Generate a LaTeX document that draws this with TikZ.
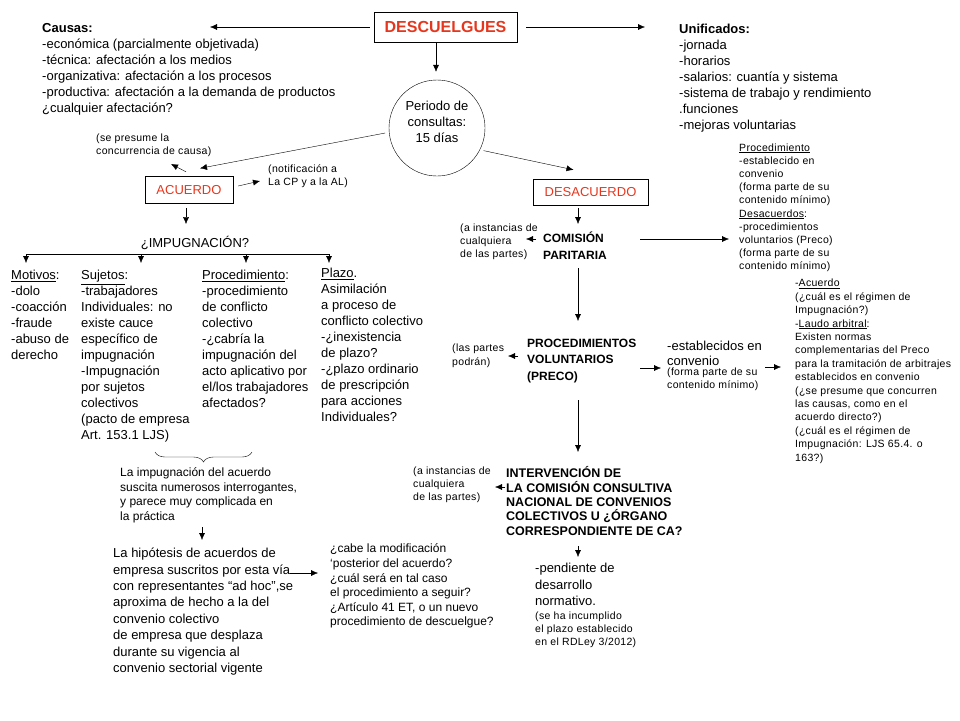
\documentclass[tikz,border=0pt]{standalone}
\usepackage{fontspec}
\setmainfont{Liberation Sans}
\newfontfamily\smallfont[LetterSpace=3]{Liberation Sans}
\usepackage{xcolor}
\usetikzlibrary{arrows.meta}
\usetikzlibrary{decorations.pathreplacing}
\definecolor{descred}{RGB}{230,55,30}
\tikzset{
    arr/.style={-{Latex[length=7pt,width=6pt]}},
    txt/.style={anchor=north west, align=left, inner sep=0pt, yshift=-2pt, execute at begin node=\strut, font=\fontsize{13}{16}\selectfont},
    smalltxt/.style={txt, font=\smallfont\fontsize{10.5}{13.2}\selectfont},
    capstxt/.style={txt, font=\bfseries\fontsize{12}{16.4}\selectfont},
    redbox/.style={draw, text=descred, inner sep=0pt, font=\fontsize{13}{16}\selectfont}}

\begin{document}
\begin{tikzpicture}[x=1pt,y=-1pt]
\useasboundingbox (0,0) rectangle (960,720);

% main boxes
\node[draw, text=descred, inner sep=0pt, font=\bfseries\fontsize{16}{19}\selectfont, minimum width=143pt, minimum height=30pt] (desc) at (445.5,27) {DESCUELGUES};
\node[circle, draw, minimum size=96pt] (per) at (437,128) {};
\node[align=center, inner sep=0pt, font=\fontsize{13}{16}\selectfont] (pertxt) at (437,122) {Periodo de\\consultas:\\15 días};
\node[redbox, minimum width=88pt, minimum height=27pt] (acu) at (189,190) {ACUERDO};
\node[redbox, minimum width=115pt, minimum height=26pt] (desa) at (590.5,192) {DESACUERDO};

% top texts
\node[txt] (causas) at (42,20.8) {\textbf{Causas:}\\-económica (parcialmente objetivada)\\-técnica: afectación a los medios\\-organizativa: afectación a los procesos\\-productiva: afectación a la demanda de productos\\¿cualquier afectación?};
\node[txt] (unif) at (679,22.3) {\textbf{Unificados:}\\-jornada\\-horarios\\-salarios: cuantía y sistema\\-sistema de trabajo y rendimiento\\.funciones\\-mejoras voluntarias};

\coordinate (causasEnd) at (210,27);
\coordinate (unifEnd) at (645,27);
\draw [arr] ([xshift=-4pt]desc.west) -- (causasEnd);
\draw [arr] ([xshift=9pt]desc.east) -- (unifEnd);
\draw [arr] ([xshift=-9.5pt]desc.south) -- ([xshift=-1pt,yshift=8pt]per.north);

% acuerdo branch
\node[smalltxt] (pres) at (96,131.3) {(se presume la\\concurrencia de causa)};
\node[smalltxt] (notif) at (268,162.3) {(notificación a\\La CP y a la AL)};
\coordinate (presEnd) at (171,164);
\coordinate (notifEnd) at (260,181);
\draw [arr] ([xshift=-4pt]per.186) -- ([xshift=11pt,yshift=8pt]acu.north);
\draw [arr] ([xshift=-3pt,yshift=4.5pt]acu.north) -- (presEnd);
\draw [arr] ([xshift=5pt,yshift=4pt]acu.east) -- (notifEnd);

\node[inner sep=0pt, font=\fontsize{13}{16}\selectfont] (imp) at (195,243) {¿IMPUGNACIÓN?};
\draw [arr] ([xshift=-3pt,yshift=-4.5pt]acu.south) -- ([xshift=-9pt,yshift=12pt]imp.north);

\coordinate (br1) at (26,254);
\coordinate (br2) at (141,254);
\coordinate (br3) at (246,254);
\coordinate (br4) at (329,254);
\draw (br1) -- (br4);
\foreach \c in {br1,br2,br3,br4}
    \draw [arr] (\c) -- ++(0,9);

\node[txt] (motivos) at (11,268.3) {\underline{Motivos}:\\-dolo\\-coacción\\-fraude\\-abuso de\\ derecho};
\node[txt] (sujetos) at (81,268.3) {\underline{Sujetos}:\\-trabajadores\\Individuales: no\\existe cauce\\específico de\\impugnación\\-Impugnación\\por sujetos\\colectivos\\(pacto de empresa\\Art. 153.1 LJS)};
\node[txt] (proc) at (202,268.3) {\underline{Procedimiento}:\\-procedimiento\\de conflicto\\colectivo\\-¿cabría la\\impugnación del\\acto aplicativo por\\el/los trabajadores\\afectados?};
\node[txt] (plazo) at (321,265.8) {\underline{Plazo}.\\Asimilación\\a proceso de\\conflicto colectivo\\-¿inexistencia\\de plazo?\\-¿plazo ordinario\\ de prescripción\\para acciones\\Individuales?};

\coordinate (brA) at (252,452);
\coordinate (brB) at (155,452);
\draw [decorate, decoration={brace, amplitude=10pt}] (brA) -- (brB);

\node[txt, font=\fontsize{12}{14.5}\selectfont] (compl) at (120,465.9) {La impugnación del acuerdo\\suscita numerosos interrogantes,\\y parece muy complicada en\\la práctica};
\node[txt, font=\fontsize{13}{16.4}\selectfont] (hip) at (113,546) {La hipótesis de acuerdos de\\empresa suscritos por esta vía\\con representantes “ad hoc”,se\\aproxima de hecho  a la del\\convenio colectivo\\de empresa que desplaza\\durante su vigencia al\\convenio sectorial vigente};
\node[txt, font=\fontsize{12}{14.6}\selectfont] (cabe) at (330,541.8) {¿cabe la modificación\\`posterior del acuerdo?\\¿cuál será en tal caso\\el procedimiento a seguir?\\¿Artículo 41 ET, o un nuevo\\procedimiento de descuelgue?};
\coordinate (complStart) at (202,527);
\coordinate (complEnd) at (202,540);
\coordinate (hipStart) at (290,573);
\coordinate (cabeEnd) at (318,573);
\draw [arr] (complStart) -- (complEnd);
\draw [arr] (hipStart) -- (cabeEnd);

% desacuerdo branch
\draw [arr] ([xshift=4pt]per.332) -- ([xshift=-17pt,yshift=9pt]desa.north);

\node[capstxt] (cp) at (543,230) {COMISIÓN\\PARITARIA};
\node[smalltxt] (inst1) at (460,221.3) {(a instancias de\\cualquiera\\de las partes)};
\node[smalltxt] (nota1) at (739,141.3) {\underline{Procedimiento}\\-establecido en\\convenio\\(forma parte de su\\contenido mínimo)\\\underline{Desacuerdos}:\\-procedimientos\\voluntarios (Preco)\\(forma parte de su\\contenido mínimo)};
\coordinate (desaDown) at (578,208);
\coordinate (cpTop) at (578,224);
\coordinate (inst1End) at (526,239);
\coordinate (cpStart) at (640,239);
\coordinate (nota1End) at (729,239);
\draw [arr] (desaDown) -- (cpTop);
\draw [arr] ([xshift=10pt]inst1End) -- (inst1End);
\draw [arr] (cpStart) -- (nota1End);

\node[capstxt] (preco) at (527,337) {PROCEDIMIENTOS\\VOLUNTARIOS\\(PRECO)};
\node[smalltxt, font=\smallfont\fontsize{10.5}{14}\selectfont] (partes) at (452,341.7) {(las partes\\podrán)};
\node[txt, font=\fontsize{13}{15}\selectfont] (estab) at (667,339) {-establecidos en\\convenio};
\node[smalltxt] (forma) at (667,365.8) {(forma parte de su\\contenido mínimo)};
\node[smalltxt, font=\smallfont\fontsize{10.5}{13.4}\selectfont] (nota2) at (795,277.1) {-\underline{Acuerdo}\\(¿cuál es el régimen de\\Impugnación?)\\-\underline{Laudo arbitral}:\\Existen normas\\complementarias del Preco\\para la tramitación de arbitrajes\\establecidos en convenio\\(¿se presume que concurren\\las causas, como en el\\acuerdo directo?)\\(¿cuál es el régimen de\\Impugnación: LJS 65.4. o\\163?)};
\coordinate (cpDown) at (578,268);
\coordinate (precoTop) at (578,321);
\coordinate (partesEnd) at (508,356);
\coordinate (precoStart) at (640,368);
\coordinate (estabEnd) at (661,368);
\coordinate (estabStart) at (765,367);
\coordinate (nota2End) at (781,367);
\draw [arr] (cpDown) -- (precoTop);
\draw [arr] ([xshift=10pt]partesEnd) -- (partesEnd);
\draw [arr] (precoStart) -- (estabEnd);
\draw [arr] (estabStart) -- (nota2End);

\node[capstxt, font=\bfseries\fontsize{12.5}{14.4}\selectfont] (cccnc) at (506,464.4) {INTERVENCIÓN DE\\LA COMISIÓN CONSULTIVA\\NACIONAL  DE CONVENIOS\\COLECTIVOS U ¿ÓRGANO\\CORRESPONDIENTE  DE CA?};
\node[smalltxt] (inst2) at (413,464.3) {(a instancias de\\cualquiera\\de las partes)};
\node[txt, font=\fontsize{13}{16.5}\selectfont] (pend) at (535,561) {-pendiente de\\desarrollo\\normativo.};
\node[smalltxt] (incum) at (535,609.3) {(se ha incumplido\\el plazo establecido\\en el RDLey 3/2012)};
\coordinate (precoDown) at (578,400);
\coordinate (cccncTop) at (578,452);
\coordinate (inst2End) at (495,487);
\coordinate (cccncDown) at (578,546);
\coordinate (pendTop) at (578,557);
\draw [arr] (precoDown) -- (cccncTop);
\draw [arr] ([xshift=10pt]inst2End) -- (inst2End);
\draw [arr] (cccncDown) -- (pendTop);
\end{tikzpicture}
\end{document}
